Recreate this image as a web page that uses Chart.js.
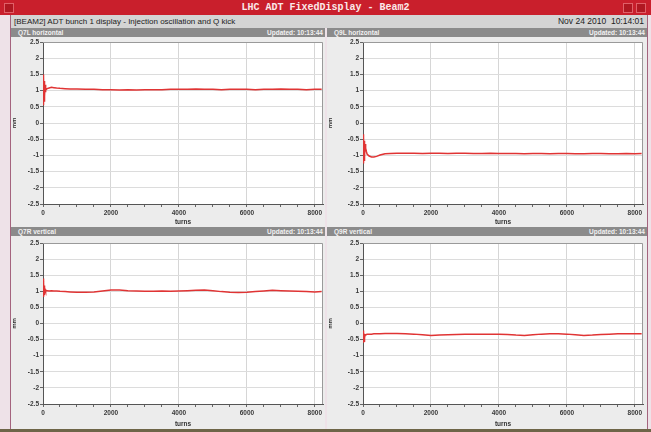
<!DOCTYPE html>
<html>
<head>
<meta charset="utf-8">
<script src="https://cdn.jsdelivr.net/npm/chart.js@4.4.1/dist/chart.umd.min.js"></script>
<style>
  html, body { margin:0; padding:0; }
  body { width:651px; height:432px; background:#eee2e8; position:relative; overflow:hidden; font-family:"Liberation Sans", Arial, sans-serif; }
  .abs { position:absolute; }
  #frameL { left:10px; top:15px; width:1px; height:417px; background:#a4647e; }
  #frameR { left:647px; top:15px; width:1px; height:417px; background:#a4647e; }
  #frameB { left:0; top:429px; width:651px; height:3px; background:#6e6548; }
  #titlebar { left:0; top:0; width:651px; height:15px; background:#c91f2c; color:#fbe9e9; font-family:"Liberation Mono","DejaVu Sans Mono",monospace; font-weight:bold; font-size:10px; line-height:15px; text-align:center; }
  #tbIconL { left:4px; top:3px; width:8px; height:8px; background:#b01822; border:1px solid #e06068; }
  #tbIconR1 { left:623px; top:3px; width:8px; height:8px; background:#b01822; border:1px solid #e06068; }
  #tbIconR2 { left:636px; top:3px; width:8px; height:8px; background:#b01822; border:1px solid #e06068; }
  #subbar { left:11px; top:15px; width:636px; height:13px; background:#d4d4d4; color:#222; font-size:8px; line-height:13px; }
  #subbar .l { position:absolute; left:3px; top:0; }
  #subbar .r { position:absolute; right:3px; top:0; font-size:8.5px; }
  .panel { position:absolute; background:#ececec; }
  .phead { position:absolute; left:0; top:0; right:0; height:9px; background:#8b8b8b; color:#f2f2f2; font-size:6.5px; line-height:9px; font-weight:bold; }
  .phead .l { position:absolute; left:7px; }
  .phead .r { position:absolute; right:2px; }
  .pbody { position:absolute; left:0; right:0; bottom:0; }
</style>
</head>
<body>
<div class="abs" id="titlebar">LHC ADT FixedDisplay - Beam2</div>
<div class="abs" id="tbIconL"></div>
<div class="abs" id="tbIconR1"></div>
<div class="abs" id="tbIconR2"></div>
<div class="abs" id="subbar"><span class="l">[BEAM2] ADT bunch 1 display - Injection oscillation and Q kick</span><span class="r">Nov 24 2010&nbsp;&nbsp;10:14:01</span></div>

<div class="panel" id="p0" style="left:11px; top:28px; width:314px; height:199px;">
  <div class="phead"><span class="l"></span><span class="r"></span></div>
  <div class="pbody" style="top:9px;"><canvas id="c0"></canvas></div>
</div>
<div class="panel" id="p1" style="left:327px; top:28px; width:320px; height:199px;">
  <div class="phead"><span class="l"></span><span class="r"></span></div>
  <div class="pbody" style="top:9px;"><canvas id="c1"></canvas></div>
</div>
<div class="panel" id="p2" style="left:11px; top:227px; width:314px; height:202px;">
  <div class="phead"><span class="l"></span><span class="r"></span></div>
  <div class="pbody" style="top:9px;"><canvas id="c2"></canvas></div>
</div>
<div class="panel" id="p3" style="left:327px; top:227px; width:320px; height:202px;">
  <div class="phead"><span class="l"></span><span class="r"></span></div>
  <div class="pbody" style="top:9px;"><canvas id="c3"></canvas></div>
</div>

<div class="abs" id="frameL"></div>
<div class="abs" id="frameR"></div>
<div class="abs" id="frameB"></div>

<script>
// ---- data ----
const panelTitles = ["Q7L horizontal", "Q9L horizontal", "Q7R vertical", "Q9R vertical"];
const updatedText = "Updated: 10:13:44";
const xAxisTitle = "turns";
const yAxisTitle = "mm";
const xTickLabels = [0, 2000, 4000, 6000, 8000];
const xMinorTicks = [0,500,1000,1500,2000,2500,3000,3500,4000,4500,5000,5500,6000,6500,7000,7500,8000];
const yTicks = [-2.5,-2,-1.5,-1,-0.5,0,0.5,1,1.5,2,2.5];

const turns = [0,10,20,30,40,50,60,70,85,100,120,180,250,320,400,500,650,800,1000,
  1250,1500,1750,2000,2250,2500,2750,3000,3250,3500,3750,4000,4250,4500,4750,
  5000,5250,5500,5750,6000,6250,6500,6750,7000,7250,7500,7750,8000,8200];

const q7lHorizontal = [1.50,0.55,1.42,0.68,1.30,0.82,1.18,0.95,1.08,1.04,1.06,1.08,1.10,1.09,1.08,1.07,1.06,1.05,1.05,
  1.04,1.04,1.03,1.03,1.02,1.03,1.02,1.03,1.03,1.03,1.04,1.04,1.04,1.05,1.04,
  1.04,1.03,1.04,1.04,1.04,1.03,1.04,1.04,1.05,1.04,1.04,1.03,1.04,1.04];

const q9lHorizontal = [-0.35,-1.25,-0.45,-1.15,-0.55,-1.05,-0.65,-0.80,-0.78,-0.88,-0.96,-1.02,-1.05,-1.05,-1.03,-0.99,-0.95,-0.94,-0.93,
  -0.93,-0.93,-0.94,-0.93,-0.93,-0.94,-0.93,-0.93,-0.94,-0.94,-0.93,-0.94,-0.94,-0.94,-0.95,
  -0.94,-0.94,-0.95,-0.94,-0.94,-0.95,-0.95,-0.94,-0.94,-0.95,-0.95,-0.94,-0.95,-0.94];

const q7rVertical = [1.40,0.82,1.30,0.90,1.18,0.95,1.06,1.00,1.03,1.02,1.02,1.01,1.02,1.01,1.01,1.00,0.99,0.98,0.97,
  0.97,0.98,1.01,1.04,1.04,1.02,1.01,1.00,1.00,1.01,1.00,1.01,1.02,1.03,1.04,
  1.02,0.99,0.97,0.96,0.97,0.99,1.01,1.03,1.02,1.01,1.00,0.99,0.98,0.99];

const q9rVertical = [-0.22,-0.60,-0.28,-0.55,-0.32,-0.45,-0.36,-0.33,-0.35,-0.34,-0.33,-0.33,-0.33,-0.32,-0.32,-0.32,-0.31,-0.31,-0.31,
  -0.32,-0.33,-0.35,-0.37,-0.36,-0.35,-0.34,-0.33,-0.33,-0.33,-0.33,-0.33,-0.34,-0.36,-0.37,
  -0.35,-0.33,-0.32,-0.32,-0.33,-0.35,-0.37,-0.36,-0.34,-0.33,-0.32,-0.32,-0.32,-0.32];

const seriesList = [q7lHorizontal, q9lHorizontal, q7rVertical, q9rVertical];

// ---- layout (pixels) ----
const layouts = [
  { yw:32, top:5, right:2, xh:23 },
  { yw:36, top:5, right:4, xh:23 },
  { yw:32, top:7, right:2, xh:25 },
  { yw:36, top:7, right:4, xh:25 }
];

const areaBg = {
  id:'areaBg',
  beforeDraw(chart) {
    const a = chart.chartArea, ctx = chart.ctx;
    ctx.save();
    ctx.fillStyle = '#ffffff';
    ctx.fillRect(a.left, a.top, a.right - a.left, a.bottom - a.top);
    ctx.restore();
  },
  afterDraw(chart) {
    const a = chart.chartArea, ctx = chart.ctx;
    ctx.save();
    ctx.strokeStyle = '#9a9a9a';
    ctx.lineWidth = 1;
    ctx.beginPath();
    ctx.moveTo(a.left, a.top + 0.5); ctx.lineTo(a.right - 0.5, a.top + 0.5);
    ctx.lineTo(a.right - 0.5, a.bottom);
    ctx.stroke();
    ctx.restore();
  }
};

const tickFont = { family:'"Liberation Sans", Arial, sans-serif', size:6.5, weight:'bold' };

seriesList.forEach((vals, i) => {
  const panel = document.getElementById('p' + i);
  panel.querySelector('.phead .l').textContent = panelTitles[i];
  panel.querySelector('.phead .r').textContent = updatedText;
  const L = layouts[i];
  const pts = turns.map((t, k) => ({ x:t, y:vals[k] }));
  new Chart(document.getElementById('c' + i), {
    type:'line',
    data:{ datasets:[{ data:pts, borderColor:'#e03434', borderWidth:1.5, pointRadius:0, tension:0, fill:false }] },
    options:{
      responsive:true, maintainAspectRatio:false, animation:false,
      layout:{ padding:{ top:L.top, right:L.right, left:0, bottom:0 } },
      plugins:{ legend:{ display:false }, tooltip:{ enabled:false } },
      scales:{
        x:{
          type:'linear', min:0, max:8240,
          afterBuildTicks:s => { s.ticks = xMinorTicks.map(v => ({ value:v })); },
          ticks:{ autoSkip:false, maxRotation:0, padding:2, color:'#3a3a3a', font:tickFont,
                  callback:v => xTickLabels.includes(v) ? String(v) : '' },
          grid:{ color:c => (c.tick && xTickLabels.includes(c.tick.value) && c.tick.value !== 0) ? '#d6d6d6' : 'rgba(0,0,0,0)',
                 tickLength:3, tickColor:'#666' },
          border:{ color:'#555', width:1 },
          title:{ display:true, text:xAxisTitle, color:'#333', font:{ family:'"Liberation Sans", Arial, sans-serif', size:6.5, weight:'bold' }, padding:{ top:1, bottom:1 } },
          afterFit:s => { s.height = L.xh; }
        },
        y:{
          min:-2.5, max:2.5,
          afterBuildTicks:s => { s.ticks = yTicks.map(v => ({ value:v })); },
          ticks:{ padding:1, color:'#3a3a3a', font:tickFont, callback:v => String(v) },
          grid:{ color:'#dcdcdc', tickLength:3, tickColor:'#666' },
          border:{ color:'#555', width:1 },
          title:{ display:true, text:yAxisTitle, color:'#333', font:{ family:'"Liberation Sans", Arial, sans-serif', size:6, weight:'bold' }, padding:0 },
          afterFit:s => { s.width = L.yw; }
        }
      }
    },
    plugins:[areaBg]
  });
});
</script>
</body>
</html>
